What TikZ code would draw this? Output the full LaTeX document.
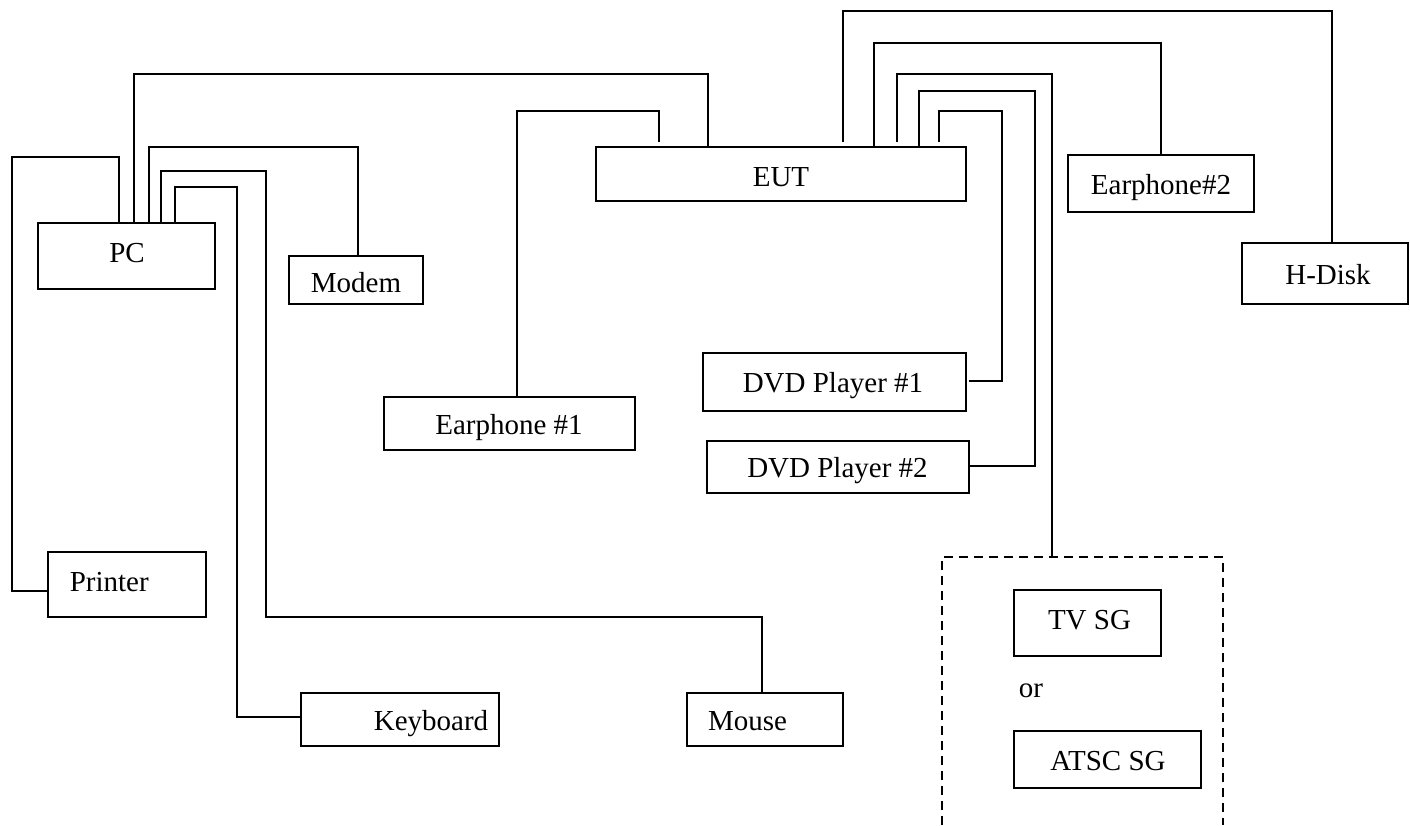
\documentclass[tikz,border=0pt]{standalone}
\usepackage{fontspec}
\setmainfont{Liberation Serif}
\usetikzlibrary{calc}
\begin{document}
\begin{tikzpicture}[x=1pt,y=-1pt,line width=1.6pt,
  unit/.style={draw,rectangle,inner sep=0pt},
  lbl/.style={inner sep=0pt,anchor=base,font=\fontsize{29}{34}\selectfont},
  wire/.style={line width=1.6pt},
  group/.style={line width=1.6pt,dash pattern=on 9pt off 6pt}]
\useasboundingbox (0,0) rectangle (1410,825);

% equipment boxes
\node[unit,minimum width=177pt,minimum height=66pt] (pc) at (126.5,256) {};
\node[unit,minimum width=134pt,minimum height=48pt] (modem) at (356,280) {};
\node[unit,minimum width=370pt,minimum height=54pt] (eut) at (781,174) {};
\node[unit,minimum width=251pt,minimum height=53pt] (ear1) at (509.5,423.5) {};
\node[unit,minimum width=263pt,minimum height=58pt] (dvd1) at (834.5,382) {};
\node[unit,minimum width=262pt,minimum height=52pt] (dvd2) at (838,467) {};
\node[unit,minimum width=186pt,minimum height=57pt] (ear2) at (1161,183.5) {};
\node[unit,minimum width=166pt,minimum height=61pt] (hdisk) at (1325,273.5) {};
\node[unit,minimum width=158pt,minimum height=65pt] (printer) at (127,584.5) {};
\node[unit,minimum width=198pt,minimum height=53pt] (kbd) at (400,719.5) {};
\node[unit,minimum width=156pt,minimum height=53pt] (mouse) at (765,719.5) {};
\node[unit,minimum width=147pt,minimum height=66pt] (tvsg) at (1087.5,623) {};
\node[unit,minimum width=187pt,minimum height=57pt] (atsc) at (1107.5,759.5) {};

% labels
\node[lbl] (pc-t) at (127,262) {PC};
\node[lbl] (modem-t) at (356,292) {Modem};
\node[lbl] (eut-t) at (781,186) {EUT};
\node[lbl] (ear1-t) at (509,434) {Earphone \#1};
\node[lbl] (dvd1-t) at (833,392) {DVD Player \#1};
\node[lbl] (dvd2-t) at (837.5,477) {DVD Player \#2};
\node[lbl] (ear2-t) at (1161,194) {Earphone\#2};
\node[lbl] (hdisk-t) at (1328,284) {H-Disk};
\node[lbl,anchor=base west] (printer-t) at (69,591) {Printer};
\node[lbl] (kbd-t) at (431,730) {Keyboard};
\node[lbl] (mouse-t) at (747.5,730) {Mouse};
\node[lbl] (tvsg-t) at (1089.5,629) {TV SG};
\node[lbl] (or-t) at (1031,697) {or};
\node[lbl] (atsc-t) at (1108,770) {ATSC SG};

% signal generator group (open at the bottom)
\coordinate (sg) at (1052,557);
\draw[group] (942,825) -- (942,557) -- (1223,557) -- (1223,825);

% PC cabling
\draw[wire] (pc.north -| 119,0) |- (12,157) |- (printer.west |- 0,591);
\draw[wire] (pc.north -| 134,0) |- (708,74) -- (eut.north -| 708,0);
\draw[wire] (pc.north -| 149,0) |- (358,147) -- (modem.north -| 358,0);
\draw[wire] (pc.north -| 161,0) |- (266,171) |- (762,617) -- (mouse.north -| 762,0);
\draw[wire] (pc.north -| 175,0) |- (237,187) |- (kbd.west |- 0,717);

% EUT cabling
\draw[wire] ($(eut.north -| 659,0)+(0,-4)$) |- (517,111) -- (ear1.north -| 517,0);
\draw[wire] ($(eut.north -| 843,0)+(0,-4)$) |- (1332,11) -- (hdisk.north -| 1332,0);
\draw[wire] (eut.north -| 874,0) |- (1161,43) -- (ear2.north);
\draw[wire] ($(eut.north -| 897,0)+(0,-4)$) |- (1052,74) -- (sg);
\draw[wire] (eut.north -| 919,0) |- (1035,91) |- (dvd2.east |- 0,466);
\draw[wire] ($(eut.north -| 939,0)+(0,-4)$) |- (1002,111) |- ($(dvd1.east |- 0,381)+(2,0)$);
\end{tikzpicture}
\end{document}
